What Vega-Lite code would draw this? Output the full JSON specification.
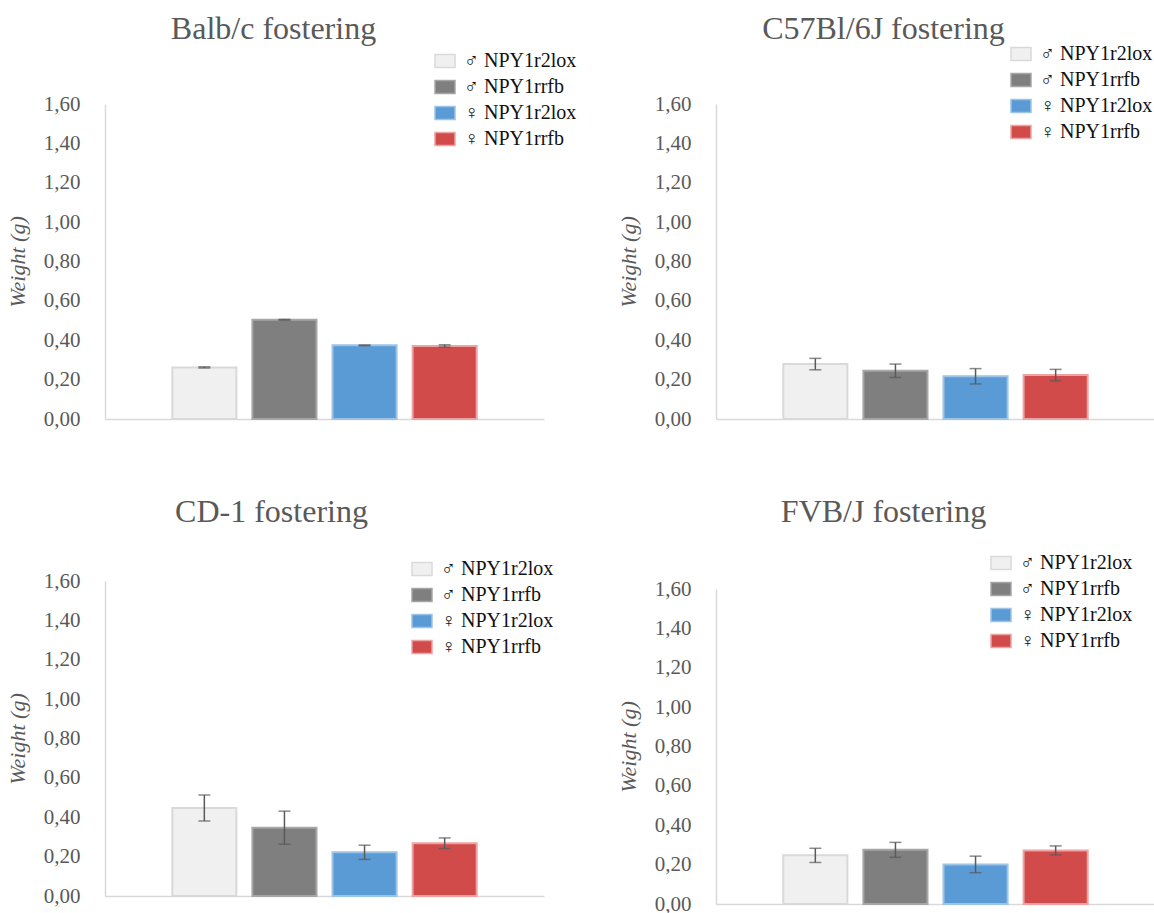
{
  "$schema": "https://vega.github.io/schema/vega-lite/v6.json",
  "background": "white",
  "padding": {"left": 6, "top": 13, "right": 0, "bottom": 0},
  "config": {
    "font": "Liberation Serif",
    "view": {"stroke": null},
    "title": {"font": "Liberation Serif", "fontSize": 32, "fontWeight": "normal", "color": "#595959", "anchor": "middle"},
    "axisY": {
      "domainColor": "#d9d9d9", "domainWidth": 1.5, "ticks": false, "grid": false,
      "labelFont": "Liberation Serif", "labelFontSize": 21, "labelColor": "#595959", "labelPadding": 25,
      "titleFont": "Liberation Serif", "titleFontSize": 22, "titleFontStyle": "italic", "titleFontWeight": "normal",
      "titleColor": "#595959", "titlePadding": 14,
      "values": [0, 0.2, 0.4, 0.6, 0.8, 1.0, 1.2, 1.4, 1.6],
      "labelExpr": "replace(format(datum.value, '.2f'), '.', ',')"
    },
    "axisX": {"domainColor": "#d9d9d9", "domainWidth": 1.5, "ticks": false, "labels": false, "grid": false, "title": null},
    "legend": {
      "orient": "none", "title": null, "padding": 0,
      "labelFont": "Liberation Serif", "labelFontSize": 20, "labelColor": "#111111", "labelOffset": 8,
      "symbolType": "M-1,-0.65L1,-0.65L1,0.65L-1,0.65Z", "symbolSize": 400, "symbolStrokeWidth": 1.5,
      "symbolOpacity": 1, "rowPadding": 5
    }
  },
  "data": {
    "values": [
      {"panel": "Balb/c", "group": "♂ NPY1r2lox", "mean": 0.262, "err": 0.003},
      {"panel": "Balb/c", "group": "♂ NPY1rrfb", "mean": 0.504, "err": 0.002},
      {"panel": "Balb/c", "group": "♀ NPY1r2lox", "mean": 0.374, "err": 0.002},
      {"panel": "Balb/c", "group": "♀ NPY1rrfb", "mean": 0.371, "err": 0.006},
      {"panel": "C57Bl/6J", "group": "♂ NPY1r2lox", "mean": 0.279, "err": 0.029},
      {"panel": "C57Bl/6J", "group": "♂ NPY1rrfb", "mean": 0.245, "err": 0.034},
      {"panel": "C57Bl/6J", "group": "♀ NPY1r2lox", "mean": 0.217, "err": 0.039},
      {"panel": "C57Bl/6J", "group": "♀ NPY1rrfb", "mean": 0.223, "err": 0.029},
      {"panel": "CD-1", "group": "♂ NPY1r2lox", "mean": 0.447, "err": 0.066},
      {"panel": "CD-1", "group": "♂ NPY1rrfb", "mean": 0.347, "err": 0.084},
      {"panel": "CD-1", "group": "♀ NPY1r2lox", "mean": 0.222, "err": 0.036},
      {"panel": "CD-1", "group": "♀ NPY1rrfb", "mean": 0.268, "err": 0.027},
      {"panel": "FVB/J", "group": "♂ NPY1r2lox", "mean": 0.247, "err": 0.036},
      {"panel": "FVB/J", "group": "♂ NPY1rrfb", "mean": 0.275, "err": 0.038},
      {"panel": "FVB/J", "group": "♀ NPY1r2lox", "mean": 0.201, "err": 0.042},
      {"panel": "FVB/J", "group": "♀ NPY1rrfb", "mean": 0.272, "err": 0.023}
    ]
  },
  "spacing": 40,
  "resolve": {
    "scale": {"x": "independent", "y": "independent", "fill": "independent", "stroke": "independent"},
    "legend": {"fill": "independent", "stroke": "independent"}
  },
  "hconcat": [
    {
      "spacing": 67,
      "resolve": {
        "scale": {"x": "independent", "y": "independent", "fill": "independent", "stroke": "independent"},
        "legend": {"fill": "independent", "stroke": "independent"}
      },
      "vconcat": [
        {
          "width": 439, "height": 315,
          "title": {"text": "Balb/c fostering", "dx": -51, "offset": 4},
          "transform": [{"filter": "datum.panel === 'Balb/c'"}],
          "encoding": {
            "x": {"field": "group", "type": "nominal", "scale": {"domain": ["♂ NPY1r2lox", "♂ NPY1rrfb", "♀ NPY1r2lox", "♀ NPY1rrfb"], "paddingInner": 0.2, "paddingOuter": 0.84}},
            "y": {"field": "mean", "type": "quantitative", "scale": {"domain": [0, 1.6]}, "axis": {"title": "Weight (g)"}}
          },
          "layer": [
            {
              "mark": {"type": "bar", "strokeWidth": 2},
              "encoding": {
                "fill": {"field": "group", "type": "nominal", "scale": {"domain": ["♂ NPY1r2lox", "♂ NPY1rrfb", "♀ NPY1r2lox", "♀ NPY1rrfb"], "range": ["#f0f0f0", "#7f7f7f", "#5b9bd5", "#d24b4b"]}, "legend": {"orient": "none", "legendX": 329, "legendY": -54}},
                "stroke": {"field": "group", "type": "nominal", "scale": {"domain": ["♂ NPY1r2lox", "♂ NPY1rrfb", "♀ NPY1r2lox", "♀ NPY1rrfb"], "range": ["#d9d9d9", "#a6a6a6", "#9dc3e6", "#eea3a3"]}, "legend": {"orient": "none", "legendX": 329, "legendY": -54}}
              }
            },
            {
              "mark": {"type": "errorbar", "ticks": {"size": 12}, "thickness": 1.5, "color": "#595959"},
              "encoding": {"yError": {"field": "err"}}
            }
          ]
        },
        {
          "width": 439, "height": 315,
          "title": {"text": "CD-1 fostering", "dx": -53, "offset": 29},
          "transform": [{"filter": "datum.panel === 'CD-1'"}],
          "encoding": {
            "x": {"field": "group", "type": "nominal", "scale": {"domain": ["♂ NPY1r2lox", "♂ NPY1rrfb", "♀ NPY1r2lox", "♀ NPY1rrfb"], "paddingInner": 0.2, "paddingOuter": 0.84}},
            "y": {"field": "mean", "type": "quantitative", "scale": {"domain": [0, 1.6]}, "axis": {"title": "Weight (g)"}}
          },
          "layer": [
            {
              "mark": {"type": "bar", "strokeWidth": 2},
              "encoding": {
                "fill": {"field": "group", "type": "nominal", "scale": {"domain": ["♂ NPY1r2lox", "♂ NPY1rrfb", "♀ NPY1r2lox", "♀ NPY1rrfb"], "range": ["#f0f0f0", "#7f7f7f", "#5b9bd5", "#d24b4b"]}, "legend": {"orient": "none", "legendX": 306, "legendY": -23}},
                "stroke": {"field": "group", "type": "nominal", "scale": {"domain": ["♂ NPY1r2lox", "♂ NPY1rrfb", "♀ NPY1r2lox", "♀ NPY1rrfb"], "range": ["#d9d9d9", "#a6a6a6", "#9dc3e6", "#eea3a3"]}, "legend": {"orient": "none", "legendX": 306, "legendY": -23}}
              }
            },
            {
              "mark": {"type": "errorbar", "ticks": {"size": 12}, "thickness": 1.5, "color": "#595959"},
              "encoding": {"yError": {"field": "err"}}
            }
          ]
        }
      ]
    },
    {
      "spacing": 67,
      "resolve": {
        "scale": {"x": "independent", "y": "independent", "fill": "independent", "stroke": "independent"},
        "legend": {"fill": "independent", "stroke": "independent"}
      },
      "vconcat": [
        {
          "width": 439, "height": 315,
          "title": {"text": "C57Bl/6J fostering", "dx": -52, "offset": -3},
          "transform": [{"filter": "datum.panel === 'C57Bl/6J'"}],
          "encoding": {
            "x": {"field": "group", "type": "nominal", "scale": {"domain": ["♂ NPY1r2lox", "♂ NPY1rrfb", "♀ NPY1r2lox", "♀ NPY1rrfb"], "paddingInner": 0.2, "paddingOuter": 0.84}},
            "y": {"field": "mean", "type": "quantitative", "scale": {"domain": [0, 1.6]}, "axis": {"title": "Weight (g)"}}
          },
          "layer": [
            {
              "mark": {"type": "bar", "strokeWidth": 2},
              "encoding": {
                "fill": {"field": "group", "type": "nominal", "scale": {"domain": ["♂ NPY1r2lox", "♂ NPY1rrfb", "♀ NPY1r2lox", "♀ NPY1rrfb"], "range": ["#f0f0f0", "#7f7f7f", "#5b9bd5", "#d24b4b"]}, "legend": {"orient": "none", "legendX": 294, "legendY": -61}},
                "stroke": {"field": "group", "type": "nominal", "scale": {"domain": ["♂ NPY1r2lox", "♂ NPY1rrfb", "♀ NPY1r2lox", "♀ NPY1rrfb"], "range": ["#d9d9d9", "#a6a6a6", "#9dc3e6", "#eea3a3"]}, "legend": {"orient": "none", "legendX": 294, "legendY": -61}}
              }
            },
            {
              "mark": {"type": "errorbar", "ticks": {"size": 12}, "thickness": 1.5, "color": "#595959"},
              "encoding": {"yError": {"field": "err"}}
            }
          ]
        },
        {
          "width": 439, "height": 315,
          "title": {"text": "FVB/J fostering", "dx": -52, "offset": 23},
          "transform": [{"filter": "datum.panel === 'FVB/J'"}],
          "encoding": {
            "x": {"field": "group", "type": "nominal", "scale": {"domain": ["♂ NPY1r2lox", "♂ NPY1rrfb", "♀ NPY1r2lox", "♀ NPY1rrfb"], "paddingInner": 0.2, "paddingOuter": 0.84}},
            "y": {"field": "mean", "type": "quantitative", "scale": {"domain": [0, 1.6]}, "axis": {"title": "Weight (g)"}}
          },
          "layer": [
            {
              "mark": {"type": "bar", "strokeWidth": 2},
              "encoding": {
                "fill": {"field": "group", "type": "nominal", "scale": {"domain": ["♂ NPY1r2lox", "♂ NPY1rrfb", "♀ NPY1r2lox", "♀ NPY1rrfb"], "range": ["#f0f0f0", "#7f7f7f", "#5b9bd5", "#d24b4b"]}, "legend": {"orient": "none", "legendX": 274, "legendY": -37}},
                "stroke": {"field": "group", "type": "nominal", "scale": {"domain": ["♂ NPY1r2lox", "♂ NPY1rrfb", "♀ NPY1r2lox", "♀ NPY1rrfb"], "range": ["#d9d9d9", "#a6a6a6", "#9dc3e6", "#eea3a3"]}, "legend": {"orient": "none", "legendX": 274, "legendY": -37}}
              }
            },
            {
              "mark": {"type": "errorbar", "ticks": {"size": 12}, "thickness": 1.5, "color": "#595959"},
              "encoding": {"yError": {"field": "err"}}
            }
          ]
        }
      ]
    }
  ]
}
